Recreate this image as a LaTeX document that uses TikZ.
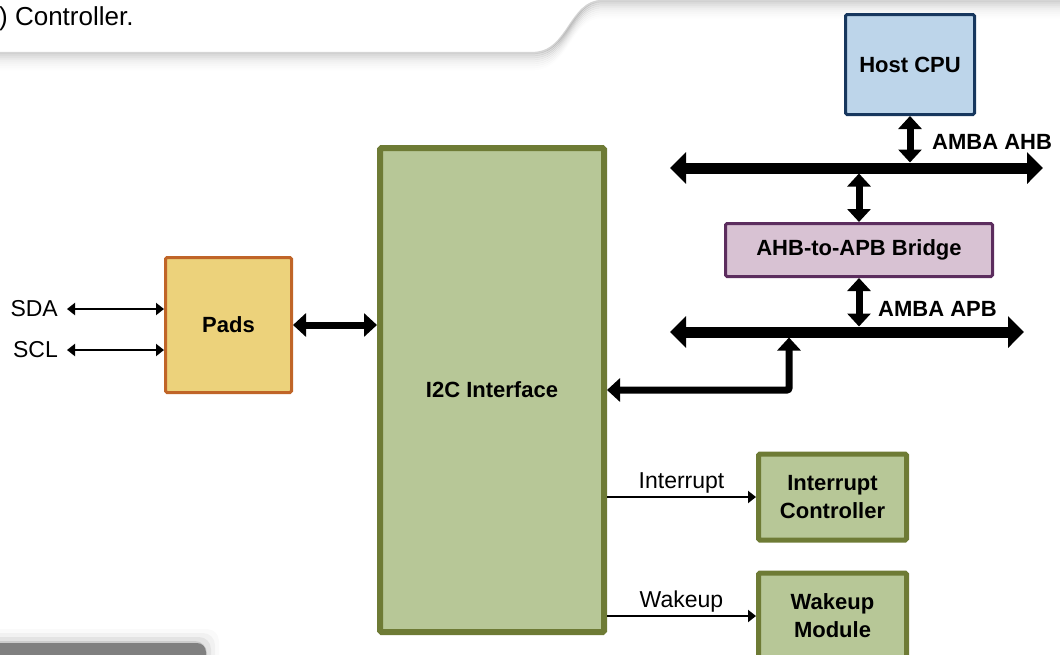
\documentclass[tikz,border=0pt]{standalone}
\usepackage{fontspec}
\setmainfont{Liberation Sans}
\usetikzlibrary{arrows.meta}
\definecolor{cpufill}{HTML}{BDD5EA}
\definecolor{cpudraw}{HTML}{17375E}
\definecolor{brgfill}{HTML}{D8C2D3}
\definecolor{brgdraw}{HTML}{5C2D5E}
\definecolor{olvfill}{HTML}{B7C797}
\definecolor{olvdraw}{HTML}{6E7B35}
\definecolor{padfill}{HTML}{ECD27B}
\definecolor{paddraw}{HTML}{C06528}
\begin{document}
\begin{tikzpicture}[x=1pt,y=-1pt,>={Triangle[length=13pt,width=23pt]},
	blk/.style={draw,line width=3pt,rounded corners=1.5pt,inner sep=0pt,align=center,font=\fontsize{22}{28}\selectfont\bfseries},
	olv/.style={blk,draw=olvdraw,fill=olvfill,line width=5pt},
	bus/.style={line width=11pt,{Triangle[length=16pt,width=31pt]}-{Triangle[length=16pt,width=31pt]}},
	link/.style={line width=7pt,<->},
	padln/.style={line width=2pt,{Triangle[length=8pt,width=12pt]}-{Triangle[length=8pt,width=12pt]}},
	sigln/.style={line width=2.5pt,-{Triangle[length=8pt,width=12pt]}},
	lbl/.style={font=\fontsize{23}{28}\selectfont},
	buslbl/.style={font=\fontsize{22}{26}\selectfont\bfseries,inner sep=0pt}]
	\useasboundingbox (0,0) rectangle (1060,654);
	\clip (0,0) rectangle (1060,654);
	\foreach \d/\o in {1/.30,3/.24,5/.19,7/.14,9/.10,11/.07,13/.05,15/.03,17/.015}
		\draw[line width=2.2pt,black!55,opacity=\o,yshift=-\d pt] (-5,52)--(532,52) .. controls (548,52) and (556,44) .. (566,30) .. controls (578,12) and (586,0) .. (602,0)--(1065,0);
	\foreach \d/\o in {15/.02,11/.035,7/.06,3/.1}
		\fill[black,opacity=\o,rounded corners=12pt] (-20,644-\d) rectangle (204+\d,680);
	\fill[black!50,rounded corners=9pt] (-20,643) rectangle (206,680);
	\node[font=\fontsize{26}{30}\selectfont,anchor=base west,inner sep=0pt] (title) at (-1,25) {) Controller.};
	\node[blk,draw=cpudraw,fill=cpufill,minimum width=129pt,minimum height=100pt] (cpu) at (910,64.5) {Host CPU};
	\node[blk,draw=brgdraw,fill=brgfill,minimum width=267pt,minimum height=53pt] (bridge) at (859,250) {AHB-to-APB Bridge};
	\node[olv,line width=6pt,minimum width=224pt,minimum height=484pt] (i2c) at (492,390) {I2C Interface};
	\node[blk,draw=paddraw,fill=padfill,minimum width=126pt,minimum height=135pt] (pads) at (228.5,325) {Pads};
	\node[olv,minimum width=148pt,minimum height=86pt] (irq) at (832.5,497) {Interrupt\\Controller};
	\node[olv,minimum width=148pt,minimum height=86pt] (wake) at (832.5,616) {Wakeup\\Module};
	\node[lbl,anchor=east,inner xsep=9pt] (sda) at (67,309) {SDA};
	\node[lbl,anchor=east,inner xsep=9pt] (scl) at (67,350) {SCL};
	\node[buslbl,anchor=west] (ahblbl) at (932,142) {AMBA AHB};
	\node[buslbl,anchor=west] (apblbl) at (878,309) {AMBA APB};
	\coordinate (ahbW) at (670,168); \coordinate (ahbE) at (1043,168);
	\coordinate (apbW) at (670,332); \coordinate (apbE) at (1024,332);
	\coordinate (ahbtop) at (0,162.5); \coordinate (ahbbot) at (0,173.5);
	\coordinate (apbtop) at (0,326.5); \coordinate (apbbot) at (0,337.5);
	\coordinate (apbtap) at (789,337.5);
	\draw[bus] (ahbW)--(ahbE);
	\draw[bus] (apbW)--(apbE);
	\draw[link] (cpu.south)--(cpu.south |- ahbtop);
	\draw[link] (bridge.north |- ahbbot)--(bridge.north);
	\draw[link] (bridge.south)--(bridge.south |- apbtop);
	\draw[link,rounded corners=2pt] (i2c.east)-|(apbtap);
	\draw[link] (pads.east)--(i2c.west |- pads.east);
	\draw[padln] (sda)--(pads.west |- sda);
	\draw[padln] (scl)--(pads.west |- scl);
	\draw[sigln] (i2c.east |- irq)--node[lbl,above,inner sep=2pt]{Interrupt}(irq.west);
	\draw[sigln] (i2c.east |- wake)--node[lbl,above,inner sep=2pt]{Wakeup}(wake.west);
\end{tikzpicture}
\end{document}
